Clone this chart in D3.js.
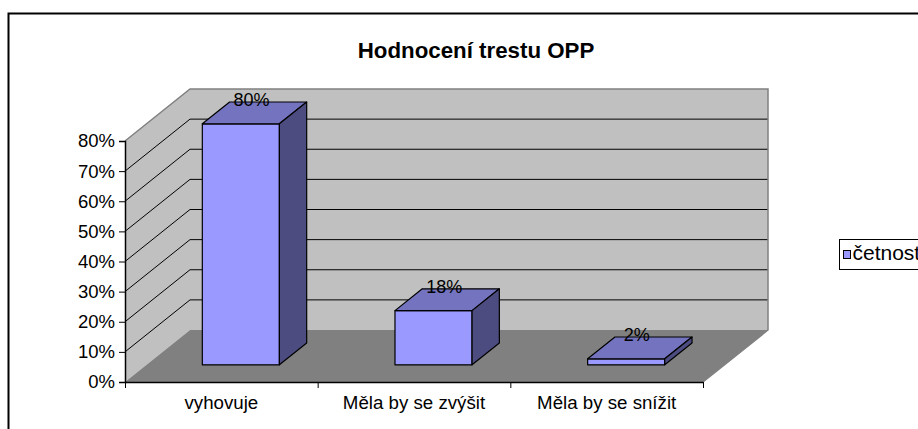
<!DOCTYPE html>
<html>
<head>
<meta charset="utf-8">
<script src="https://cdn.jsdelivr.net/npm/d3@7"></script>
<style>
  body { margin: 0; background: #fff; }
  svg { display: block; font-family: Arial, "Liberation Sans", sans-serif; }
</style>
</head>
<body>
<svg id="chart" width="918" height="429"></svg>
<script>
const title = "Hodnocení trestu OPP";
const categories = ["vyhovuje", "Měla by se zvýšit", "Měla by se snížit"];
const values = [0.80, 0.18, 0.02];
const valueLabels = ["80%", "18%", "2%"];
const yTicks = [0, 0.1, 0.2, 0.3, 0.4, 0.5, 0.6, 0.7, 0.8];
const seriesName = "četnost";

const svg = d3.select("#chart");

// depth offset of the 3d box
const depth = { dx: 65, dy: -52 };
const barZ = [0.33, 0.75];

const x = d3.scaleBand()
    .domain(categories)
    .range([125, 703]);

const y = d3.scaleLinear()
    .domain([0, 0.8])
    .range([382, 141]);

const z = d3.scaleLinear().domain([0, 1]).range([0, 1]);

function proj(px, py, d) {
    return [px + depth.dx * z(d), py + depth.dy * z(d)];
}

const line = d3.line();
function poly(pts) { return line(pts) + "Z"; }

// outer chart border
svg.append("rect")
    .attr("x", 8.5).attr("y", 13.5)
    .attr("width", 930).attr("height", 440)
    .attr("fill", "#fff")
    .attr("stroke", "#000")
    .attr("stroke-width", 2);

svg.append("text")
    .attr("x", 476).attr("y", 58)
    .attr("text-anchor", "middle")
    .attr("font-weight", "bold")
    .attr("font-size", 22.3)
    .text(title);

const x0 = x.range()[0], x1 = x.range()[1];
const yb = y(0), yt = y(0.8);

// walls
svg.append("path")
    .attr("d", poly([[x0, yb], [x0, yt], proj(x0, yt, 1), proj(x0, yb, 1)]))
    .attr("fill", "#c0c0c0");
svg.append("path")
    .attr("d", poly([proj(x0, yb, 1), proj(x0, yt, 1), proj(x1, yt, 1), proj(x1, yb, 1)]))
    .attr("fill", "#c0c0c0");
svg.append("path")
    .attr("d", poly([[x0, yb], [x1, yb], proj(x1, yb, 1), proj(x0, yb, 1)]))
    .attr("fill", "#808080");

// gridlines
const grid = yTicks.filter(t => t > 0 && t < 0.8);
svg.append("g").selectAll("path")
    .data(grid)
    .join("path")
    .attr("d", t => line([[x0, y(t)], proj(x0, y(t), 1), proj(x1, y(t), 1)]))
    .attr("fill", "none")
    .attr("stroke", "#000")
    .attr("stroke-width", 1);

// wall edges
svg.append("path")
    .attr("d", line([[x0, yt], proj(x0, yt, 1), proj(x1, yt, 1), proj(x1, yb, 1), [x1, yb]]))
    .attr("fill", "none")
    .attr("stroke", "#808080")
    .attr("stroke-width", 1.5);

// axes
const yAxis = d3.axisLeft(y)
    .tickValues(yTicks)
    .tickFormat(d3.format(".0%"))
    .tickSizeOuter(0)
    .tickSize(6);
svg.append("g")
    .attr("transform", `translate(${x0},0)`)
    .call(yAxis)
    .call(g => g.selectAll("text").attr("font-size", 18.5).attr("font-family", null).attr("fill", "#000").attr("dx", "-1"))
    .call(g => g.select(".domain").attr("stroke-width", 1.5));

const xAxis = d3.axisBottom(d3.scaleLinear().domain([0, 3]).range([x0, x1]))
    .tickValues([0, 1, 2, 3])
    .tickFormat("")
    .tickSize(6)
    .tickSizeOuter(0);
svg.append("g")
    .attr("transform", `translate(0,${yb})`)
    .call(xAxis)
    .call(g => g.select(".domain").attr("stroke-width", 1.5));

svg.append("g").selectAll("text")
    .data(categories)
    .join("text")
    .attr("x", d => x(d) + x.bandwidth() / 2)
    .attr("y", 409)
    .attr("text-anchor", "middle")
    .attr("font-size", 18.7)
    .text(d => d);

// bars
const bw = x.bandwidth() * 0.4;
const bars = svg.append("g").selectAll("g")
    .data(categories.map((c, i) => ({ c, v: values[i], label: valueLabels[i] })))
    .join("g");

bars.each(function (d) {
    const g = d3.select(this);
    const l = x(d.c) + x.bandwidth() * 0.29;
    const r = l + bw;
    const b = y(0), t = y(d.v);
    const [za, zb] = barZ;
    const fbl = proj(l, b, za), fbr = proj(r, b, za), ftl = proj(l, t, za), ftr = proj(r, t, za);
    const bbr = proj(r, b, zb), btl = proj(l, t, zb), btr = proj(r, t, zb);
    g.append("path").attr("d", poly([fbl, fbr, ftr, ftl])).attr("fill", "#9999ff");
    g.append("path").attr("d", poly([ftl, ftr, btr, btl])).attr("fill", "#7373bf");
    g.append("path").attr("d", poly([fbr, bbr, btr, ftr])).attr("fill", "#4c4c80");
    g.selectAll("path").attr("stroke", "#000").attr("stroke-width", 1.2).attr("stroke-linejoin", "round");
    g.append("text")
        .attr("x", (ftl[0] + btr[0]) / 2 - 3)
        .attr("y", btl[1] - 1)
        .attr("text-anchor", "middle")
        .attr("dominant-baseline", "middle")
        .attr("font-size", 18)
        .text(d.label);
});

// legend
const legend = svg.append("g").attr("transform", "translate(839.5,239.5)");
legend.append("rect")
    .attr("width", 100).attr("height", 30)
    .attr("fill", "#fff").attr("stroke", "#000");
legend.append("rect")
    .attr("x", 4).attr("y", 11).attr("width", 7).attr("height", 8)
    .attr("fill", "#9999ff").attr("stroke", "#000");
legend.append("text")
    .attr("x", 13).attr("y", 15)
    .attr("dominant-baseline", "middle")
    .attr("font-size", 21)
    .text(seriesName);
</script>
</body>
</html>
